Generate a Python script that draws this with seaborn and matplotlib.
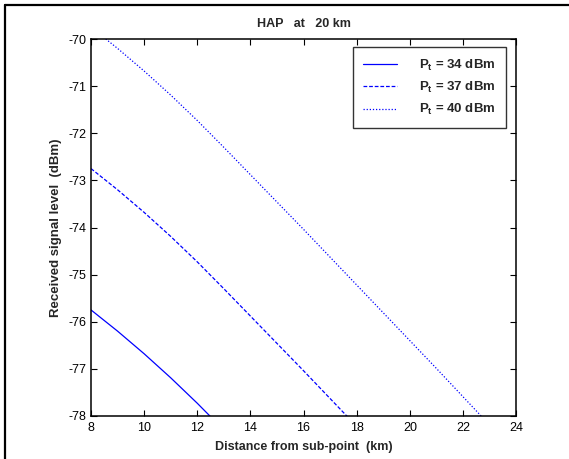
# -*- coding: utf-8 -*-
"""
HAP at 20 km - received signal level vs distance from sub-point
"""

import pandas as pd
import matplotlib.pyplot as plt
from matplotlib.lines import Line2D
import seaborn as sns

# 데이터
distance_km = [8, 9, 10, 11, 12, 13, 14, 15, 16, 17, 18, 19, 20, 21, 22, 23, 24]
level_34 = [-75.75, -76.20, -76.68, -77.19, -77.73, -78.30, -78.88, -79.46, -80.04,
            -80.63, -81.22, -81.81, -82.40, -82.99, -83.59, -84.19, -84.79]
level_37 = [-72.75, -73.20, -73.68, -74.19, -74.73, -75.30, -75.88, -76.46, -77.04,
            -77.63, -78.22, -78.81, -79.40, -79.99, -80.59, -81.19, -81.79]
level_40 = [-69.75, -70.20, -70.68, -71.19, -71.73, -72.30, -72.88, -73.46, -74.04,
            -74.63, -75.22, -75.81, -76.40, -76.99, -77.59, -78.19, -78.79]
series_labels = [r'P$_{t}$ = 34 dBm', r'P$_{t}$ = 37 dBm', r'P$_{t}$ = 40 dBm']
x_ticks = [8, 10, 12, 14, 16, 18, 20, 22, 24]
y_ticks = [-78, -77, -76, -75, -74, -73, -72, -71, -70]

# 스타일
sns.set_theme(style='white')
plt.rcParams['font.family'] = ['Liberation Sans', 'DejaVu Sans']
plt.rcParams['axes.unicode_minus'] = False
plt.rcParams['mathtext.fontset'] = 'custom'
plt.rcParams['mathtext.rm'] = 'Liberation Sans:bold'
plt.rcParams['mathtext.default'] = 'rm'

df = pd.DataFrame({
    'distance': distance_km * 3,
    'level': level_34 + level_37 + level_40,
    'series': [series_labels[0]] * len(distance_km)
              + [series_labels[1]] * len(distance_km)
              + [series_labels[2]] * len(distance_km),
})

fig = plt.figure(figsize=(5.69, 4.59), dpi=100)
ax = fig.add_axes([0.16, 0.0937, 0.747, 0.8213])

sns.lineplot(data=df, x='distance', y='level', hue='series', style='series',
             palette=['#0000ff'] * 3,
             dashes={series_labels[0]: '', series_labels[1]: (3, 1.5),
                     series_labels[2]: (1, 1.5)},
             linewidth=0.9, ax=ax, legend=True)

ax.set_xlim(8, 24)
ax.set_ylim(-78, -70)
ax.set_xticks(x_ticks)
ax.set_yticks(y_ticks)
ax.tick_params(direction='in', length=4.5, width=0.8, labelsize=9,
               top=True, right=True, bottom=True, left=True, colors='black')
ax.tick_params(axis='x', pad=4.5)
ax.tick_params(axis='y', pad=3)
for sp in ax.spines.values():
    sp.set_color('black')
    sp.set_linewidth(1.1)

ax.set_title('HAP   at   20 km', fontsize=9, fontweight='bold', pad=9)
ax.set_xlabel('Distance from sub-point  (km)', fontsize=9, fontweight='bold', labelpad=5)
ax.set_ylabel('Received signal level  (dBm)', fontsize=9.5, fontweight='bold', labelpad=5)

handles, labels = ax.get_legend_handles_labels()
leg = ax.legend(handles, labels, loc='upper right', bbox_to_anchor=(0.976, 0.979),
                borderaxespad=0, frameon=True, fancybox=False, edgecolor='black',
                prop={'weight': 'bold', 'size': 9.5}, handlelength=2.55,
                handletextpad=1.67, borderpad=0.8, labelspacing=0.55)
leg.get_frame().set_linewidth(1.0)

# 바깥 테두리 (위, 왼쪽)
fig.add_artist(Line2D([5 / 569, 5 / 569], [0, 1 - 5 / 459], color='black',
                      linewidth=1.6, transform=fig.transFigure))
fig.add_artist(Line2D([5 / 569, 1], [1 - 5 / 459, 1 - 5 / 459], color='black',
                      linewidth=1.6, transform=fig.transFigure))

fig.savefig('out.png', dpi=100)
